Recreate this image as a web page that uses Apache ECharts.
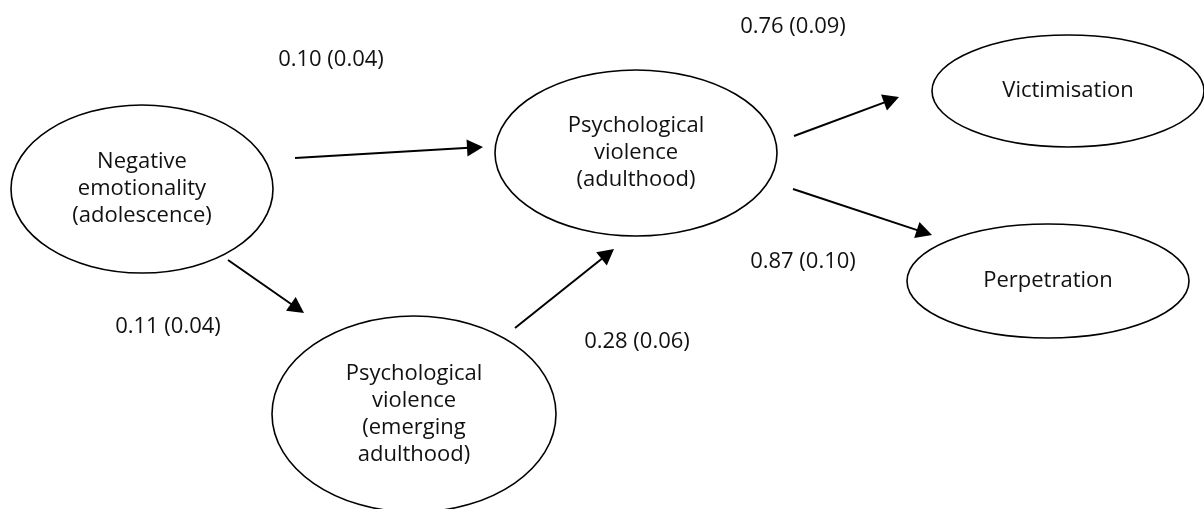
<!DOCTYPE html>
<html>
<head>
<meta charset="utf-8">
<script src="https://cdn.jsdelivr.net/npm/echarts@6/dist/echarts.min.js"></script>
<style>
html,body{margin:0;padding:0;background:#fff;}
#chart{width:1204px;height:509px;}
</style>
</head>
<body>
<div id="chart"></div>
<script>
// Nodes (latent variables)
const nodeNames = [
  'Negative\nemotionality\n(adolescence)',
  'Psychological\nviolence\n(adulthood)',
  'Victimisation',
  'Perpetration',
  'Psychological\nviolence\n(emerging\nadulthood)'
];
const nodeX = [142, 636, 1068, 1048, 414];
const nodeY = [189, 153, 91, 281, 414];
const nodeRX = [131, 141, 136, 141, 142];
const nodeRY = [84, 83, 56, 57, 98];

// Paths (arrows): start and tip points
const edgeFromX = [295, 228, 515, 794, 793];
const edgeFromY = [158, 260, 328, 136, 189];
const edgeToX = [483, 304, 614, 899, 932];
const edgeToY = [147, 313, 249, 97, 235];

// Path coefficients
const edgeLabels = ['0.10 (0.04)', '0.11 (0.04)', '0.28 (0.06)', '0.76 (0.09)', '0.87 (0.10)'];
const labelX = [331, 168, 637, 793, 803];
const labelY = [60, 327, 342, 27, 262];

const FONT = '22px "Open Sans"';
const INK = '#111';

const chart = echarts.init(document.getElementById('chart'), null, {renderer: 'canvas'});

const option = {
  animation: false,
  backgroundColor: '#fff',
  grid: {left: 0, right: 0, top: 0, bottom: 0},
  xAxis: {type: 'value', min: 0, max: 1204, show: false},
  yAxis: {type: 'value', min: 0, max: 509, inverse: true, show: false},
  series: [
    {
      type: 'custom',
      name: 'nodes',
      clip: false,
      data: nodeX.map((x, i) => [x, nodeY[i]]),
      renderItem: function (params, api) {
        const i = params.dataIndex;
        const c = api.coord([nodeX[i], nodeY[i]]);
        const s = api.size([nodeRX[i], nodeRY[i]]);
        return {
          type: 'ellipse',
          shape: {cx: c[0], cy: c[1], rx: s[0], ry: s[1]},
          style: {fill: '#fff', stroke: '#000', lineWidth: 1.6},
          textContent: {
            type: 'text',
            style: {
              text: nodeNames[i], font: FONT, fill: INK,
              align: 'center', verticalAlign: 'middle', lineHeight: 27
            }
          },
          textConfig: {position: 'inside'}
        };
      }
    },
    {
      type: 'custom',
      name: 'paths',
      clip: false,
      data: edgeFromX.map((x, i) => [x, edgeFromY[i], edgeToX[i], edgeToY[i]]),
      renderItem: function (params, api) {
        const i = params.dataIndex;
        const p0 = api.coord([edgeFromX[i], edgeFromY[i]]);
        const p1 = api.coord([edgeToX[i], edgeToY[i]]);
        const dx = p1[0] - p0[0], dy = p1[1] - p0[1];
        const len = Math.sqrt(dx * dx + dy * dy);
        const ux = dx / len, uy = dy / len;
        const headLen = 16, headHalf = 8.5;
        const bx = p1[0] - ux * headLen, by = p1[1] - uy * headLen;
        return {
          type: 'group',
          children: [
            {
              type: 'line',
              shape: {x1: p0[0], y1: p0[1], x2: bx + ux * 2, y2: by + uy * 2},
              style: {stroke: '#000', lineWidth: 2}
            },
            {
              type: 'polygon',
              shape: {points: [
                [p1[0], p1[1]],
                [bx - uy * headHalf, by + ux * headHalf],
                [bx + uy * headHalf, by - ux * headHalf]
              ]},
              style: {fill: '#000'}
            }
          ]
        };
      }
    },
    {
      type: 'custom',
      name: 'coefficients',
      clip: false,
      data: labelX.map((x, i) => [x, labelY[i]]),
      renderItem: function (params, api) {
        const i = params.dataIndex;
        const c = api.coord([labelX[i], labelY[i]]);
        return {
          type: 'text',
          x: c[0], y: c[1],
          style: {
            text: edgeLabels[i], font: FONT, fill: INK,
            align: 'center', verticalAlign: 'middle'
          }
        };
      }
    }
  ]
};

chart.setOption(option);
</script>
</body>
</html>
